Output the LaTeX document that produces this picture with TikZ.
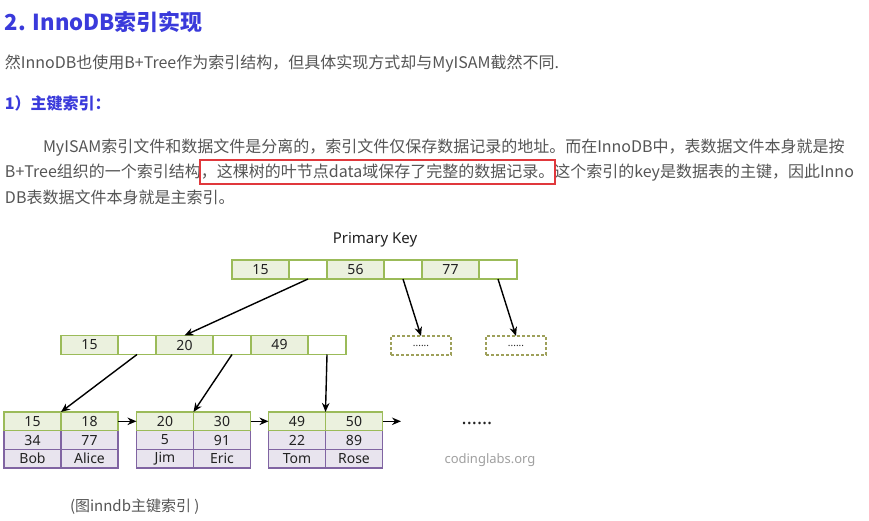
\documentclass[tikz,border=0pt]{standalone}
\usepackage{fontspec}
\setmainfont{Noto Sans}
\newfontfamily\cjk{Noto Sans CJK SC}
\usetikzlibrary{arrows.meta, positioning, fit}
\definecolor{headblue}{HTML}{3A3ADB}
\definecolor{bodygray}{HTML}{555555}
\definecolor{markred}{HTML}{E0383C}
\definecolor{keygreen}{HTML}{9BBB59}
\definecolor{keyfill}{HTML}{EBF1DE}
\definecolor{datapurple}{HTML}{8064A2}
\definecolor{datafill}{HTML}{E8E4EE}
\definecolor{dashgreen}{HTML}{9EA05A}
\definecolor{celltext}{HTML}{222222}
\definecolor{markgray}{HTML}{A0A0A0}

\begin{document}
\begin{tikzpicture}[
    x=1pt, y=-1pt,
    every node/.style={inner sep=0pt, outer sep=0pt},
    bodytext/.style={font=\cjk\fontsize{16}{19}\selectfont, text=bodygray, anchor=base west},
    heading/.style={font=\cjk\bfseries\fontsize{16}{19}\selectfont, text=headblue, anchor=base west},
    keycell/.style={draw=keygreen, fill=keyfill, line width=1.3pt, minimum width=57pt, minimum height=19pt,
                    font=\fontsize{14}{16}\selectfont, text=celltext},
    ptrcell/.style={keycell, fill=white, minimum width=38pt},
    leafkey/.style={keycell, minimum height=18.7pt},
    datacell/.style={leafkey, draw=datapurple, fill=datafill},
    morebox/.style={draw=dashgreen, dash pattern=on 3pt off 2pt, line width=1.5pt, minimum width=60pt,
                    minimum height=19pt, font=\fontsize{10}{12}\selectfont, text=celltext},
    link/.style={-{Stealth[length=9pt, width=7.5pt]}, line width=1.4pt, black},
]

% Background
\useasboundingbox[fill=white] (0,0) rectangle (869,521);

% === Text above the figure ===
\node[heading, font=\cjk\bfseries\fontsize{22}{26}\selectfont] (title) at (5,31) {2. InnoDB索引实现};
\node[bodytext] (intro) at (5,69) {然InnoDB也使用B+Tree作为索引结构，但具体实现方式却与MyISAM截然不同.};
\node[heading] (sub) at (5,110) {1）主键索引：};

\node[bodytext] (para1) at (43,153) {MyISAM索引文件和数据文件是分离的，索引文件仅保存数据记录的地址。而在InnoDB中，表数据文件本身就是按};
\node[bodytext] (para2a) at (5,178) {B+Tree组织的一个索引结构};
\node[bodytext, anchor=base west] (para2b) at (para2a.base east) {，这棵树的叶节点data域保存了完整的数据记录。};
\node[bodytext, anchor=base west] (para2c) at (para2b.base east) {这个索引的key是数据表的主键，因此Inno};
\node[bodytext] (para3) at (5,204) {DB表数据文件本身就是主索引。};
\node[draw=markred, line width=2pt, inner xsep=1pt, inner ysep=4pt, fit=(para2b)] (mark) {};

% === Root node ===
\node[font=\fontsize{15}{18}\selectfont, text=celltext] (pk) at (375,240) {Primary Key};
\node[keycell] (rk1) at (260.5,269.5) {15};
\node[ptrcell] (rp1) at (308,269.5) {};
\node[keycell] (rk2) at (355.5,269.5) {56};
\node[ptrcell] (rp2) at (403,269.5) {};
\node[keycell] (rk3) at (450.5,269.5) {77};
\node[ptrcell] (rp3) at (498,269.5) {};

% === Inner node ===
\node[keycell] (ik1) at (89.5,345) {15};
\node[ptrcell] (ip1) at (137,345) {};
\node[keycell] (ik2) at (184.5,345) {20};
\node[ptrcell] (ip2) at (232,345) {};
\node[keycell] (ik3) at (279.5,345) {49};
\node[ptrcell] (ip3) at (327,345) {};

\node[morebox] (more1) at (421,345.5) {......};
\node[morebox] (more2) at (516,345.5) {......};

% === Leaf nodes ===
\node[datacell] (l1v1) at (32.5,440) {34};
\node[datacell] (l1v2) at (89.5,440) {77};
\node[datacell] (l1n1) at (32.5,458.7) {Bob};
\node[datacell] (l1n2) at (89.5,458.7) {Alice};
\node[leafkey] (l1k1) at (32.5,421.3) {15};
\node[leafkey] (l1k2) at (89.5,421.3) {18};

\node[datacell] (l2v1) at (165,440) {5};
\node[datacell] (l2v2) at (222,440) {91};
\node[datacell] (l2n1) at (165,458.7) {Jim};
\node[datacell] (l2n2) at (222,458.7) {Eric};
\node[leafkey] (l2k1) at (165,421.3) {20};
\node[leafkey] (l2k2) at (222,421.3) {30};

\node[datacell] (l3v1) at (297,440) {22};
\node[datacell] (l3v2) at (354,440) {89};
\node[datacell] (l3n1) at (297,458.7) {Tom};
\node[datacell] (l3n2) at (354,458.7) {Rose};
\node[leafkey] (l3k1) at (297,421.3) {49};
\node[leafkey] (l3k2) at (354,421.3) {50};

\coordinate (l3next) at (401,421.3);
\node[font=\bfseries\fontsize{19}{22}\selectfont, text=celltext] (dots) at (477,423) {......};
\node[font=\fontsize{13}{15}\selectfont, text=markgray] (site) at (490,460) {codinglabs.org};

% === Pointers ===
\draw[link] (rp1.south) -- (ik2.north);
\draw[link] (rp2.south) -- (more1.north);
\draw[link] (rp3.south) -- (more2.north);
\draw[link] (ip1.south) -- (l1k1.north east);
\draw[link] (ip2.south) -- (l2k1.north east);
\draw[link] (ip3.south) -- (l3k1.north east);
\draw[link] (l1k2.east) -- (l2k1.west);
\draw[link] (l2k2.east) -- (l3k1.west);
\draw[link] (l3k2.east) -- (l3next);

% Caption
\node[bodytext, font=\cjk\fontsize{15}{18}\selectfont] (caption) at (70,511) {(图inndb主键索引 )};

\end{tikzpicture}
\end{document}
